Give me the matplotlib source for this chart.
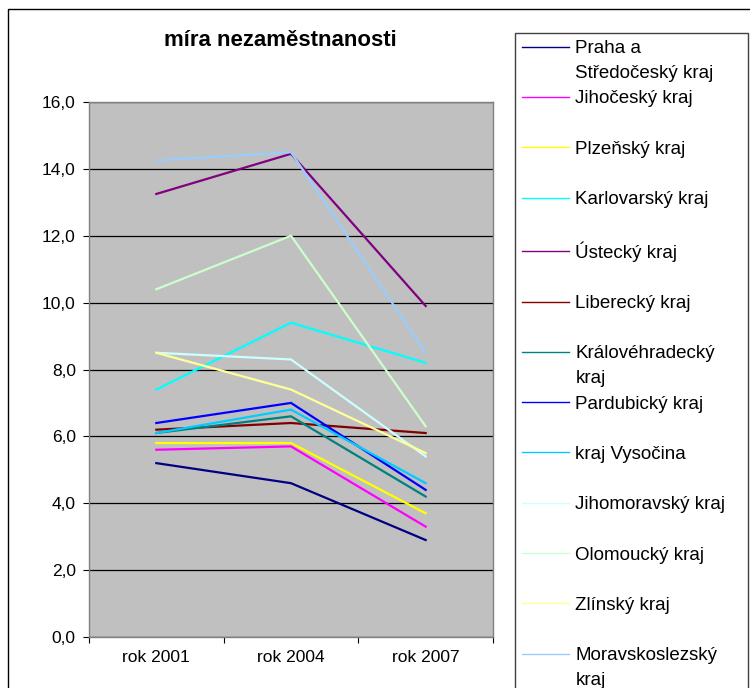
import matplotlib.pyplot as plt
from matplotlib.patches import Rectangle
from matplotlib.ticker import FuncFormatter, FixedLocator

plt.rcParams['font.family'] = ['Liberation Sans', 'DejaVu Sans']

# Data (unemployment rate, %)
years = ['rok 2001', 'rok 2004', 'rok 2007']
regions = ['Praha a', 'Jihočeský kraj', 'Plzeňský kraj', 'Karlovarský kraj',
           'Ústecký kraj', 'Liberecký kraj', 'Královéhradecký', 'Pardubický kraj',
           'kraj Vysočina', 'Jihomoravský kraj', 'Olomoucký kraj', 'Zlínský kraj',
           'Moravskoslezský']
second_lines = ['Středočeský kraj', '', '', '', '', '', 'kraj', '', '', '', '', '', 'kraj']
v2001 = [5.2, 5.6, 5.8, 7.4, 13.25, 6.2, 6.1, 6.4, 6.1, 8.5, 10.4, 8.5, 14.25]
v2004 = [4.6, 5.7, 5.8, 9.4, 14.45, 6.4, 6.6, 7.0, 6.8, 8.3, 12.0, 7.4, 14.5]
v2007 = [2.9, 3.3, 3.7, 8.2, 9.9, 6.1, 4.2, 4.4, 4.6, 5.4, 6.3, 5.5, 8.5]
colors = ['#000080', '#FF00FF', '#FFFF00', '#00FFFF', '#800080', '#800000',
          '#008080', '#0000FF', '#00CCFF', '#CCFFFF', '#CCFFCC', '#FFFF99', '#99CCFF']

W, H = 750, 688
fig = plt.figure(figsize=(W / 100, H / 100), dpi=100)

# outer chart frame (only top/left visible in the reference)
fig.patches.append(Rectangle((8 / W, -0.1), 1.2, 1 - 9 / H + 0.1, transform=fig.transFigure,
                             fill=False, edgecolor='black', linewidth=1.0))
# legend frame
fig.patches.append(Rectangle((515 / W, -0.1), 233 / W, 1 - 33 / H + 0.1, transform=fig.transFigure,
                             fill=False, edgecolor='#404040', linewidth=1.0))

ax = fig.add_axes([89 / W, 51 / H, 404 / W, 535 / H])
ax.set_facecolor('#C0C0C0')
for s in ax.spines.values():
    s.set_color('#808080')
    s.set_linewidth(1.0)

x = list(range(len(years)))
lines = []
for i, name in enumerate(regions):
    ln, = ax.plot(x, [v2001[i], v2004[i], v2007[i]], color=colors[i], linewidth=1.6,
                  solid_joinstyle='miter', label=name, zorder=3)
    lines.append(ln)

ax.set_ylim(0, 16)
ax.set_yticks(range(0, 17, 2))
ax.yaxis.set_major_formatter(FuncFormatter(lambda v, p: f'{v:.1f}'.replace('.', ',')))
ax.grid(axis='y', color='black', linewidth=0.9, zorder=1)
ax.set_axisbelow(True)

ax.set_xlim(-0.5, len(years) - 0.5)
ax.xaxis.set_major_locator(FixedLocator([i - 0.5 for i in range(len(years) + 1)]))
ax.xaxis.set_major_formatter(FuncFormatter(lambda v, p: ''))
ax.set_xticks(x, minor=True)
ax.set_xticklabels(years, minor=True)
ax.tick_params(axis='x', which='minor', length=0, pad=9, labelsize=12.5)
ax.tick_params(axis='x', which='major', length=4, direction='out', color='black')
ax.tick_params(axis='y', length=4.5, direction='out', color='black', pad=5, labelsize=12.5)

fig.text(280 / W, 1 - 41 / H, 'míra nezaměstnanosti', ha='center', va='center',
         fontsize=16, fontweight='bold')

leg = fig.legend(handles=lines, loc='upper left', bbox_to_anchor=(522 / W, 1 - 40 / H),
                 frameon=False, fontsize=13.5, borderpad=0, borderaxespad=0,
                 handlelength=2.5, handletextpad=0.35, labelspacing=1.77)
for hl in leg.get_lines():
    hl.set_linewidth(1.0)

# wrapped second lines of the long legend labels
fig.canvas.draw()
inv = fig.transFigure.inverted()
for t, extra in zip(leg.get_texts(), second_lines):
    if extra:
        bb = t.get_window_extent()
        px, py = inv.transform((bb.x0, bb.y0 - 25))
        fig.text(px, py, extra, fontsize=13.5, ha='left', va='bottom')

fig.savefig('out.png', dpi=100)
